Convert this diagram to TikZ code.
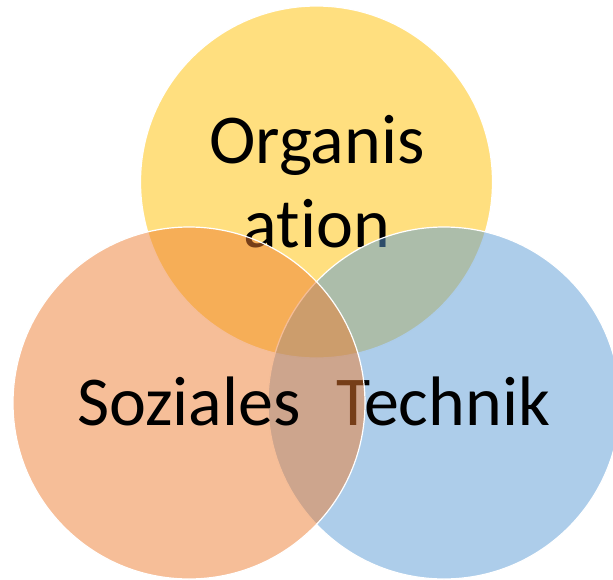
\documentclass[tikz,border=0pt]{standalone}
\usepackage{fontspec}
\setmainfont[Ligatures=NoCommon]{Carlito}
\definecolor{gelb}{HTML}{FFC000}
\definecolor{orangeton}{HTML}{ED7D31}
\definecolor{blau}{HTML}{5B9BD5}

\begin{document}
\begin{tikzpicture}[x=1pt, y=-1pt, main/.style = {circle, draw=white, line width=1.2pt, fill opacity=0.5, minimum size=352pt, inner sep=0pt}, word/.style = {font=\fontsize{70}{84}\selectfont, anchor=base, align=center}]
			\useasboundingbox (0,0) rectangle (613,579);
			\node[main, fill=gelb] (1) at (316.5,182) {};
			\node[word] (1t) at (317,247) {Organis\\ation};
			\node[main, fill=blau] (3) at (444,403) {};
			\node[word] (3t) at (443,425) {Technik};
			\node[main, fill=orangeton] (2) at (189,403) {};
			\node[word] (2t) at (189,425) {Soziales};
		\end{tikzpicture}
\end{document}
